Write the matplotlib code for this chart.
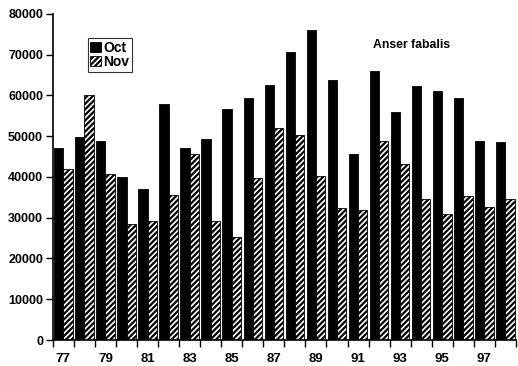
import numpy as np
import matplotlib
matplotlib.use('Agg')
import matplotlib.pyplot as plt

years = ['77', '78', '79', '80', '81', '82', '83', '84', '85', '86', '87',
         '88', '89', '90', '91', '92', '93', '94', '95', '96', '97', '98']
oct_counts = [47000, 49800, 48700, 40100, 37000, 57800, 47000, 49300, 56600,
              59300, 62500, 70700, 76100, 63900, 45700, 65900, 55900, 62300,
              61000, 59300, 48700, 48600]
nov_counts = [42000, 60000, 40800, 28500, 29200, 35500, 45600, 29200, 25300,
              39700, 52000, 50300, 40200, 32500, 32000, 48900, 43100, 34600,
              31000, 35300, 32600, 34600]

plt.rcParams['font.family'] = ['Liberation Sans', 'DejaVu Sans']
plt.rcParams['font.weight'] = 'bold'
plt.rcParams['hatch.linewidth'] = 1.6

fig = plt.figure(figsize=(5.18, 3.66), dpi=100)
ax = fig.add_axes([0.102, 0.071, 0.894, 0.891])

x = np.arange(len(years))
w = 0.44
ax.bar(x - w / 2, oct_counts, w, color='black', edgecolor='black',
       linewidth=0.6, label='Oct')
ax.bar(x + w / 2, nov_counts, w, color='white', edgecolor='black',
       hatch='//////', linewidth=0.6, label='Nov')

ax.set_xlim(-0.5, len(years) - 0.5)
ax.set_ylim(0, 80000)
ax.set_yticks(np.arange(0, 80001, 10000))
ax.tick_params(axis='y', labelsize=9, length=5, width=1, direction='out', pad=2)

# category ticks sit on the boundaries, labels on every other category
ax.set_xticks(np.arange(-0.5, len(years), 1.0))
ax.set_xticklabels([])
ax.set_xticks(x[::2], minor=True)
ax.set_xticklabels(years[::2], minor=True)
ax.tick_params(axis='x', which='major', length=5, width=1, direction='out')
ax.tick_params(axis='x', which='minor', length=0, labelsize=9.5, pad=9)

for s in ['top', 'right']:
    ax.spines[s].set_visible(False)
for s in ['left', 'bottom']:
    ax.spines[s].set_linewidth(1.2)

leg = ax.legend(loc='upper left', bbox_to_anchor=(0.075, 0.925), fontsize=10,
                frameon=True, fancybox=False, edgecolor='black',
                handlelength=0.75, handleheight=0.75, handletextpad=0.2,
                borderpad=0.2, labelspacing=0.0, borderaxespad=0)
leg.get_frame().set_linewidth(0.8)

ax.text(0.775, 0.905, 'Anser fabalis', transform=ax.transAxes, fontsize=8.8,
        fontweight='bold', ha='center', va='center')

fig.savefig('out.png', dpi=100)
